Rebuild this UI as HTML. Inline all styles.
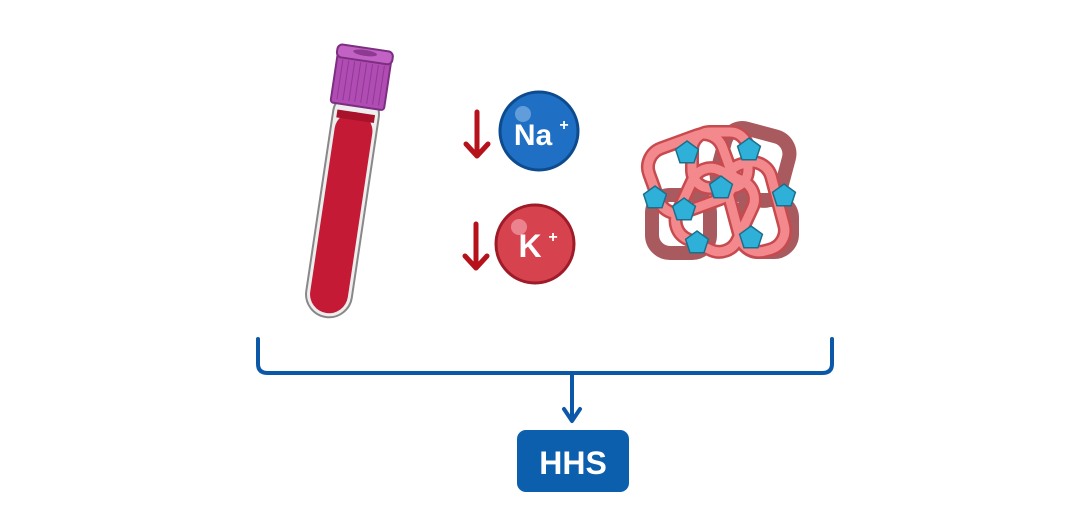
<!DOCTYPE html>
<html><head><meta charset="utf-8"><style>
html,body{margin:0;padding:0;background:#fff;width:1080px;height:514px;overflow:hidden}
</style></head><body>
<svg width="1080" height="514" viewBox="0 0 1080 514" xmlns="http://www.w3.org/2000/svg">
<!-- tube -->
<g transform="translate(366,47) rotate(8.5)">
  <rect x="-23" y="45" width="46" height="228" rx="23" fill="#eee" stroke="#888" stroke-width="2"/>
  <rect x="-19" y="66" width="38" height="203" rx="19" fill="#c41a35"/>
  <rect x="-19" y="66" width="38" height="8" fill="#a8122a"/>
  <rect x="-27" y="10" width="54" height="50" rx="3" fill="#b04cb3" stroke="#7c2e80" stroke-width="2"/>
  <rect x="-28" y="1" width="56" height="13" rx="5" fill="#c262c4" stroke="#7c2e80" stroke-width="2"/>
  <ellipse cx="0" cy="6" rx="12" ry="3" fill="#8e3a93"/>
  <g stroke="#8e3a93" stroke-width="1">
    <line x1="-21" y1="16" x2="-21" y2="56"/><line x1="-15" y1="16" x2="-15" y2="56"/><line x1="-9" y1="16" x2="-9" y2="56"/><line x1="-3" y1="16" x2="-3" y2="56"/><line x1="3" y1="16" x2="3" y2="56"/><line x1="9" y1="16" x2="9" y2="56"/><line x1="15" y1="16" x2="15" y2="56"/><line x1="21" y1="16" x2="21" y2="56"/>
  </g>
</g>
<!-- arrows -->
<g stroke="#b5121b" stroke-width="5" fill="none" stroke-linecap="round" stroke-linejoin="round">
  <line x1="477" y1="112" x2="477" y2="155"/><polyline points="466,144 477,156 488,144"/>
  <line x1="476" y1="224" x2="476" y2="267"/><polyline points="465,256 476,268 487,256"/>
</g>
<!-- Na -->
<circle cx="539" cy="131" r="39" fill="#1f6fc4" stroke="#0d4a8e" stroke-width="3"/>
<circle cx="523" cy="114" r="8" fill="#7fb0e6" opacity=".7"/>
<text x="533" y="145" font-family="Liberation Sans, sans-serif" font-weight="bold" font-size="30" fill="#fff" text-anchor="middle">Na</text>
<text x="564" y="130" font-family="Liberation Sans, sans-serif" font-weight="bold" font-size="16" fill="#fff" text-anchor="middle">+</text>
<!-- K -->
<circle cx="535" cy="244" r="39" fill="#d7424f" stroke="#9e1b27" stroke-width="3"/>
<circle cx="519" cy="227" r="8" fill="#f2a0a8" opacity=".7"/>
<text x="530" y="257" font-family="Liberation Sans, sans-serif" font-weight="bold" font-size="32" fill="#fff" text-anchor="middle">K</text>
<text x="553" y="242" font-family="Liberation Sans, sans-serif" font-weight="bold" font-size="16" fill="#fff" text-anchor="middle">+</text>
<!-- protein -->
<g stroke-width="14" fill="none" stroke-linejoin="round">
  <g stroke="#a95a5e">
    <rect x="720" y="132" width="66" height="66" rx="18" transform="rotate(15 755 165)"/>
    <rect x="652" y="195" width="58" height="58" rx="18"/>
    <rect x="740" y="200" width="52" height="52" rx="18"/>
  </g>
  <g stroke="#c74a4f">
    <rect x="652" y="140" width="78" height="68" rx="20" transform="rotate(-20 690 175)"/>
    <rect x="682" y="172" width="66" height="76" rx="20" transform="rotate(25 715 210)"/>
    <rect x="732" y="162" width="46" height="90" rx="20" transform="rotate(-15 755 205)"/>
    <rect x="692" y="132" width="56" height="56" rx="18"/>
  </g>
  <g stroke="#f3898d" stroke-width="9">
    <rect x="652" y="140" width="78" height="68" rx="20" transform="rotate(-20 690 175)"/>
    <rect x="682" y="172" width="66" height="76" rx="20" transform="rotate(25 715 210)"/>
    <rect x="732" y="162" width="46" height="90" rx="20" transform="rotate(-15 755 205)"/>
    <rect x="692" y="132" width="56" height="56" rx="18"/>
  </g>
</g>
<g fill="#2eb0d8" stroke="#1b6f8a" stroke-width="1.5">
  <polygon points="0,-12 11.4,-3.7 7,9.7 -7,9.7 -11.4,-3.7" transform="translate(687,153)"/>
  <polygon points="0,-12 11.4,-3.7 7,9.7 -7,9.7 -11.4,-3.7" transform="translate(749,150)"/>
  <polygon points="0,-12 11.4,-3.7 7,9.7 -7,9.7 -11.4,-3.7" transform="translate(721,188)"/>
  <polygon points="0,-12 11.4,-3.7 7,9.7 -7,9.7 -11.4,-3.7" transform="translate(655,198)"/>
  <polygon points="0,-12 11.4,-3.7 7,9.7 -7,9.7 -11.4,-3.7" transform="translate(684,210)"/>
  <polygon points="0,-12 11.4,-3.7 7,9.7 -7,9.7 -11.4,-3.7" transform="translate(784,196)"/>
  <polygon points="0,-12 11.4,-3.7 7,9.7 -7,9.7 -11.4,-3.7" transform="translate(697,243)"/>
  <polygon points="0,-12 11.4,-3.7 7,9.7 -7,9.7 -11.4,-3.7" transform="translate(751,238)"/>
</g>
<!-- bracket -->
<path d="M258 339 V364 Q258 373 268 373 H822 Q832 373 832 364 V339" fill="none" stroke="#0b58a8" stroke-width="4" stroke-linecap="round"/>
<line x1="572" y1="373" x2="572" y2="421" stroke="#0b58a8" stroke-width="4"/>
<polyline points="564,409 572,421 580,409" fill="none" stroke="#0b58a8" stroke-width="4" stroke-linecap="round" stroke-linejoin="round"/>
<rect x="517" y="430" width="112" height="62" rx="9" fill="#0b5fad"/>
<text x="573" y="474" font-family="Liberation Sans, sans-serif" font-weight="bold" font-size="32" fill="#fff" text-anchor="middle">HHS</text>
</svg>
</body></html>
